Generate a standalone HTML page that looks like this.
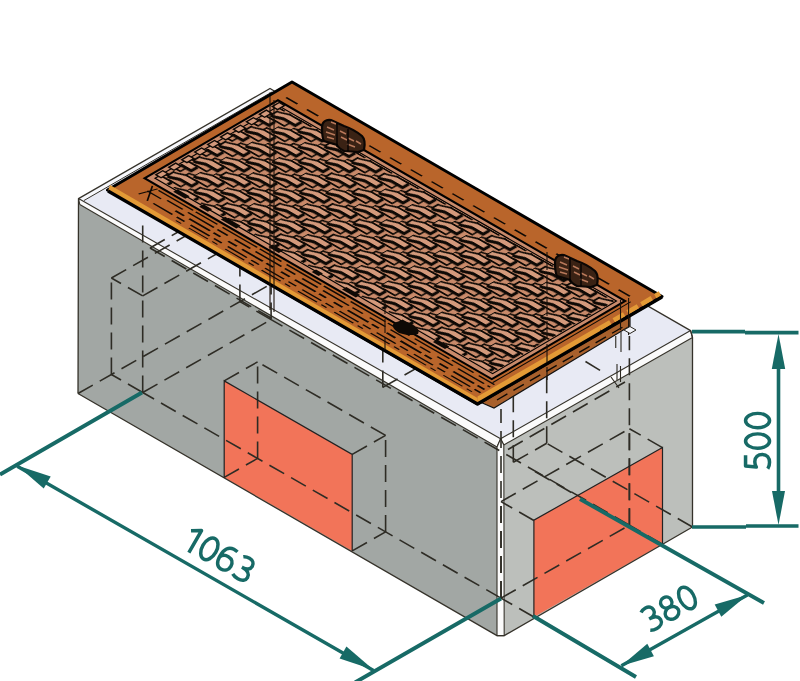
<!DOCTYPE html>
<html><head><meta charset="utf-8"><style>html,body{margin:0;padding:0;background:#fff;overflow:hidden}svg{display:block}</style></head>
<body>
<svg width="800" height="681" viewBox="0 0 800 681">
<rect width="800" height="681" fill="#ffffff"/>
<polygon points="79.8,204.5 497.0,447.0 497.0,635.6 78.0,393.5 78.0,204.0" fill="#a2a7a4"/>
<polygon points="503.8,445.0 692.5,337.5 692.5,527.0 504.2,635.6" fill="#bcbfbb"/>
<polygon points="78.5,198.6 270.0,88.5 690.6,330.6 500.6,438.8" fill="#e8eaf4"/>
<polygon points="224.2,380.9 352.2,454.4 352.2,550.9 224.2,477.4" fill="#f27459"/>
<polygon points="533.9,520.2 662.5,447.5 662.5,544.0 533.9,617.0" fill="#f27459"/>
<polygon points="78.5,198.6 270.0,88.5 272.0,92.0 84.0,200.5" fill="#f7f8fc"/>
<line x1="84" y1="200.5" x2="272" y2="92" stroke="#35322a" stroke-width="1"/>
<polygon points="78.5,198.6 500.6,438.8 497.0,447.0 79.8,204.5" fill="#fbfbfb" stroke="#35322a" stroke-width="1.1" stroke-linejoin="round"/>
<polygon points="500.6,438.8 690.6,330.6 692.5,337.5 503.8,445.0" fill="#fbfbfb" stroke="#35322a" stroke-width="1.1" stroke-linejoin="round"/>
<polygon points="497.0,447.0 500.6,438.8 503.8,445.0 504.2,635.6 497.0,635.6" fill="#fbfbfb" stroke="#35322a" stroke-width="1.1" stroke-linejoin="round"/>
<line x1="142.7" y1="392.5" x2="142.7" y2="221.9" stroke="#2e2c25" stroke-width="1.6" stroke-dasharray="17 8"/>
<line x1="501.0" y1="598.1" x2="501.0" y2="409.0" stroke="#2e2c25" stroke-width="1.6" stroke-dasharray="17 8"/>
<line x1="629.4" y1="525.2" x2="629.4" y2="336.1" stroke="#2e2c25" stroke-width="1.6" stroke-dasharray="17 8"/>
<line x1="271.1" y1="319.6" x2="271.1" y2="201.4" stroke="#2e2c25" stroke-width="1.6" stroke-dasharray="17 8"/>
<line x1="501.0" y1="598.1" x2="142.7" y2="392.5" stroke="#2e2c25" stroke-width="1.6" stroke-dasharray="17 8"/>
<line x1="142.7" y1="392.5" x2="271.1" y2="319.6" stroke="#2e2c25" stroke-width="1.6" stroke-dasharray="17 8"/>
<line x1="501.0" y1="598.1" x2="629.4" y2="525.2" stroke="#2e2c25" stroke-width="1.6" stroke-dasharray="17 8"/>
<line x1="629.4" y1="525.2" x2="271.1" y2="319.6" stroke="#2e2c25" stroke-width="1.6" stroke-dasharray="17 8"/>
<line x1="142.7" y1="295.9" x2="271.1" y2="223.0" stroke="#2e2c25" stroke-width="1.6" stroke-dasharray="17 8"/>
<line x1="111.4" y1="278.0" x2="239.9" y2="205.1" stroke="#2e2c25" stroke-width="1.6" stroke-dasharray="17 8"/>
<line x1="111.4" y1="374.5" x2="111.4" y2="278.0" stroke="#2e2c25" stroke-width="1.6" stroke-dasharray="17 8"/>
<line x1="239.9" y1="301.6" x2="239.9" y2="205.1" stroke="#2e2c25" stroke-width="1.6" stroke-dasharray="17 8"/>
<line x1="142.7" y1="295.9" x2="111.4" y2="278.0" stroke="#2e2c25" stroke-width="1.6" stroke-dasharray="17 8"/>
<line x1="271.1" y1="223.0" x2="239.9" y2="205.1" stroke="#2e2c25" stroke-width="1.6" stroke-dasharray="17 8"/>
<line x1="142.7" y1="392.5" x2="111.4" y2="374.5" stroke="#2e2c25" stroke-width="1.6" stroke-dasharray="17 8"/>
<line x1="271.1" y1="319.6" x2="239.9" y2="301.6" stroke="#2e2c25" stroke-width="1.6" stroke-dasharray="17 8"/>
<line x1="385.6" y1="531.9" x2="385.6" y2="435.4" stroke="#2e2c25" stroke-width="1.6" stroke-dasharray="17 8"/>
<line x1="352.2" y1="454.4" x2="385.6" y2="435.4" stroke="#2e2c25" stroke-width="1.6" stroke-dasharray="17 8"/>
<line x1="352.2" y1="550.9" x2="385.6" y2="531.9" stroke="#2e2c25" stroke-width="1.6" stroke-dasharray="17 8"/>
<line x1="257.6" y1="458.4" x2="257.6" y2="361.9" stroke="#2e2c25" stroke-width="1.6" stroke-dasharray="17 8"/>
<line x1="224.2" y1="380.9" x2="257.6" y2="361.9" stroke="#2e2c25" stroke-width="1.6" stroke-dasharray="17 8"/>
<line x1="224.2" y1="477.4" x2="257.6" y2="458.4" stroke="#2e2c25" stroke-width="1.6" stroke-dasharray="17 8"/>
<line x1="385.6" y1="435.4" x2="257.6" y2="361.9" stroke="#2e2c25" stroke-width="1.6" stroke-dasharray="17 8"/>
<line x1="513.3" y1="462.3" x2="513.3" y2="365.8" stroke="#2e2c25" stroke-width="1.6" stroke-dasharray="17 8"/>
<line x1="546.7" y1="443.3" x2="546.7" y2="346.8" stroke="#2e2c25" stroke-width="1.6" stroke-dasharray="17 8"/>
<line x1="513.3" y1="365.8" x2="546.7" y2="346.8" stroke="#2e2c25" stroke-width="1.6" stroke-dasharray="17 8"/>
<line x1="513.3" y1="462.3" x2="546.7" y2="443.3" stroke="#2e2c25" stroke-width="1.6" stroke-dasharray="17 8"/>
<line x1="382.8" y1="387.4" x2="382.8" y2="290.8" stroke="#2e2c25" stroke-width="1.6" stroke-dasharray="17 8"/>
<line x1="416.2" y1="368.4" x2="416.2" y2="271.9" stroke="#2e2c25" stroke-width="1.6" stroke-dasharray="17 8"/>
<line x1="382.8" y1="290.8" x2="416.2" y2="271.9" stroke="#2e2c25" stroke-width="1.6" stroke-dasharray="17 8"/>
<line x1="382.8" y1="387.4" x2="416.2" y2="368.4" stroke="#2e2c25" stroke-width="1.6" stroke-dasharray="17 8"/>
<line x1="513.3" y1="365.8" x2="382.8" y2="290.8" stroke="#2e2c25" stroke-width="1.6" stroke-dasharray="17 8"/>
<line x1="546.7" y1="346.8" x2="416.2" y2="271.9" stroke="#2e2c25" stroke-width="1.6" stroke-dasharray="17 8"/>
<line x1="692.5" y1="527.0" x2="546.7" y2="443.3" stroke="#2e2c25" stroke-width="1.6" stroke-dasharray="17 8"/>
<line x1="78.0" y1="393.5" x2="270.0" y2="284.5" stroke="#2e2c25" stroke-width="1.6" stroke-dasharray="17 8"/>
<line x1="270.0" y1="284.5" x2="270.0" y2="87.5" stroke="#2e2c25" stroke-width="1.6" stroke-dasharray="17 8"/>
<line x1="571.4" y1="492.5" x2="530.0" y2="468.7" stroke="#2e2c25" stroke-width="1.6" stroke-dasharray="17 8"/>
<line x1="150.0" y1="248.0" x2="271.0" y2="318.0" stroke="#2e2c25" stroke-width="1.6" stroke-dasharray="17 8"/>
<line x1="150.0" y1="248.0" x2="178.0" y2="232.0" stroke="#2e2c25" stroke-width="1.6" stroke-dasharray="17 8"/>
<line x1="508.0" y1="449.5" x2="625.0" y2="382.0" stroke="#2e2c25" stroke-width="1.6" stroke-dasharray="17 8"/>
<line x1="585.5" y1="361.5" x2="602.0" y2="371.5" stroke="#2e2c25" stroke-width="1.6" stroke-dasharray="17 8"/>
<line x1="501.0" y1="598.1" x2="501.0" y2="501.6" stroke="#2e2c25" stroke-width="1.6" stroke-dasharray="17 8"/>
<line x1="533.9" y1="520.5" x2="501.0" y2="501.6" stroke="#2e2c25" stroke-width="1.6" stroke-dasharray="17 8"/>
<line x1="533.9" y1="617.0" x2="501.0" y2="598.1" stroke="#2e2c25" stroke-width="1.6" stroke-dasharray="17 8"/>
<line x1="629.4" y1="525.2" x2="629.4" y2="428.7" stroke="#2e2c25" stroke-width="1.6" stroke-dasharray="17 8"/>
<line x1="662.4" y1="447.6" x2="629.4" y2="428.7" stroke="#2e2c25" stroke-width="1.6" stroke-dasharray="17 8"/>
<line x1="662.4" y1="544.1" x2="629.4" y2="525.2" stroke="#2e2c25" stroke-width="1.6" stroke-dasharray="17 8"/>
<line x1="501.0" y1="501.6" x2="629.4" y2="428.7" stroke="#2e2c25" stroke-width="1.6" stroke-dasharray="17 8"/>
<polyline points="78.0,393.5 78.5,198.6 270.0,88.5 690.6,330.6 692.5,337.5 692.5,527.0 504.2,635.6 497.0,635.6 78.0,393.5" fill="none" stroke="#35322a" stroke-width="1.3" stroke-linejoin="round"/>
<polyline points="533.9,617.0 533.9,520.2 662.5,447.5 662.5,544.0" fill="none" stroke="#222" stroke-width="1.2"/>
<polyline points="224.2,477.4 224.2,380.9 352.2,454.4 352.2,550.9" fill="none" stroke="#222" stroke-width="1.2"/>
<polygon points="480.0,402.0 630.0,315.0 630.0,326.0 494.0,408.0" fill="#a8602c" stroke="#111" stroke-width="1.2"/>
<g stroke="#0e0905" stroke-width="1.4" stroke-dasharray="12 7"><line x1="497" y1="400" x2="628" y2="324"/></g>
<polygon points="107.5,190.0 292.0,82.0 662.0,296.5 477.5,404.0" fill="#b9652b" stroke="#000" stroke-width="3" stroke-linejoin="round"/>
<polygon points="110.0,185.0 477.5,398.0 477.5,404.0 108.0,191.0" fill="#e39a36"/>
<polygon points="477.5,396.5 600.0,325.5 600.0,332.0 477.5,404.0" fill="#e39a36"/>
<line x1="600" y1="328.5" x2="660" y2="293.5" stroke="#e39a36" stroke-width="5" stroke-dasharray="12 4"/>
<polyline points="108.0,191.0 477.5,404.0 662.0,297.0" fill="none" stroke="#000" stroke-width="3.2" stroke-linejoin="round"/>
<g transform="matrix(0.8657,0.5007,0.8630,-0.5051,107.5,190)" fill="none" stroke="#0e0905"><line x1="30" y1="29" x2="418" y2="29" stroke-width="1.6" stroke-dasharray="40 3 25 6"/><line x1="45" y1="24" x2="418" y2="24" stroke-width="1.7" stroke-dasharray="18 6 30 4 12 8"/><line x1="60" y1="18.5" x2="418" y2="18.5" stroke-width="2.0" stroke-dasharray="10 6 24 4 8 9"/><line x1="40" y1="13" x2="418" y2="13" stroke-width="1.6" stroke-dasharray="22 5 9 7"/><line x1="70" y1="9" x2="418" y2="9" stroke-width="1.3" stroke-dasharray="6 9 22 5"/><path d="M22,30 L34,12 M28,30 L22,14 M24,22 L40,22" stroke-width="1.4"/><line x1="415" y1="30" x2="415" y2="190" stroke-width="1.2"/></g>
<g transform="matrix(0.8657,0.5007,0.8630,-0.5051,107.5,190)" fill="none" stroke="#0e0905" stroke-width="1.7"><line x1="12" y1="195" x2="420" y2="195" stroke-dasharray="13 11"/></g>
<defs><clipPath id="cp"><polygon points="17,40 405,40 405,181.5 17,181.5"/></clipPath><pattern id="wv" patternUnits="userSpaceOnUse" width="31" height="30" x="5" y="4"><g fill="#d49a7c" stroke="#0e0905" stroke-width="2.2"><path d="M1,-1.2 C6,-1.2 9,2.8 13,2.8 L25,2.8 L25,10" transform="translate(0,0)" fill="none" stroke="#0e0905" stroke-width="2.8"/><path d="M0,0 C5,0 8,4 12,4 L24,4 L24,11 L12,11 C8,11 5,7 0,7 Z" transform="translate(0,0)"/><path d="M1,-1.2 C6,-1.2 9,2.8 13,2.8 L25,2.8 L25,10" transform="translate(15.5,15)" fill="none" stroke="#0e0905" stroke-width="2.8"/><path d="M0,0 C5,0 8,4 12,4 L24,4 L24,11 L12,11 C8,11 5,7 0,7 Z" transform="translate(15.5,15)"/><path d="M1,-1.2 C6,-1.2 9,2.8 13,2.8 L25,2.8 L25,10" transform="translate(-15.5,15)" fill="none" stroke="#0e0905" stroke-width="2.8"/><path d="M0,0 C5,0 8,4 12,4 L24,4 L24,11 L12,11 C8,11 5,7 0,7 Z" transform="translate(-15.5,15)"/><path d="M1,-1.2 C6,-1.2 9,2.8 13,2.8 L25,2.8 L25,10" transform="translate(0,-30)" fill="none" stroke="#0e0905" stroke-width="2.8"/><path d="M0,0 C5,0 8,4 12,4 L24,4 L24,11 L12,11 C8,11 5,7 0,7 Z" transform="translate(0,-30)"/><path d="M1,-1.2 C6,-1.2 9,2.8 13,2.8 L25,2.8 L25,10" transform="translate(15.5,-15)" fill="none" stroke="#0e0905" stroke-width="2.8"/><path d="M0,0 C5,0 8,4 12,4 L24,4 L24,11 L12,11 C8,11 5,7 0,7 Z" transform="translate(15.5,-15)"/><path d="M1,-1.2 C6,-1.2 9,2.8 13,2.8 L25,2.8 L25,10" transform="translate(-15.5,-15)" fill="none" stroke="#0e0905" stroke-width="2.8"/><path d="M0,0 C5,0 8,4 12,4 L24,4 L24,11 L12,11 C8,11 5,7 0,7 Z" transform="translate(-15.5,-15)"/><path d="M1,-1.2 C6,-1.2 9,2.8 13,2.8 L25,2.8 L25,10" transform="translate(0,30)" fill="none" stroke="#0e0905" stroke-width="2.8"/><path d="M0,0 C5,0 8,4 12,4 L24,4 L24,11 L12,11 C8,11 5,7 0,7 Z" transform="translate(0,30)"/></g></pattern><pattern id="wv2" patternUnits="userSpaceOnUse" width="31" height="30" x="15.333333333333334" y="11.5"><g fill="none" stroke="#0e0905" stroke-width="1.8"><path d="M0,0 C5,0 8,4 12,4 L24,4 L24,11 L12,11 C8,11 5,7 0,7 Z" transform="translate(0,0)"/><path d="M0,0 C5,0 8,4 12,4 L24,4 L24,11 L12,11 C8,11 5,7 0,7 Z" transform="translate(15.5,15)"/><path d="M0,0 C5,0 8,4 12,4 L24,4 L24,11 L12,11 C8,11 5,7 0,7 Z" transform="translate(-15.5,15)"/><path d="M0,0 C5,0 8,4 12,4 L24,4 L24,11 L12,11 C8,11 5,7 0,7 Z" transform="translate(0,-30)"/><path d="M0,0 C5,0 8,4 12,4 L24,4 L24,11 L12,11 C8,11 5,7 0,7 Z" transform="translate(15.5,-15)"/><path d="M0,0 C5,0 8,4 12,4 L24,4 L24,11 L12,11 C8,11 5,7 0,7 Z" transform="translate(-15.5,-15)"/><path d="M0,0 C5,0 8,4 12,4 L24,4 L24,11 L12,11 C8,11 5,7 0,7 Z" transform="translate(0,30)"/></g></pattern></defs>
<g transform="matrix(0.8657,0.5007,0.8630,-0.5051,107.5,190)"><polygon points="10,33 411,33 411,187.5 10,187.5" fill="#c98a6a" stroke="#000" stroke-width="2.4"/><rect x="17" y="40" width="388" height="141.5" fill="url(#wv2)" clip-path="url(#cp)"/><rect x="17" y="40" width="388" height="141.5" fill="url(#wv)" clip-path="url(#cp)"/><polygon points="16,39 406,39 406,182.5 16,182.5" fill="none" stroke="#000" stroke-width="1.3"/><g fill="#d49a7c" stroke="#0e0905" stroke-width="1.6"><rect x="13" y="43.0" width="6" height="8" /><rect x="13" y="58.0" width="6" height="8" /><rect x="13" y="73.0" width="6" height="8" /><rect x="13" y="88.0" width="6" height="8" /><rect x="13" y="103.0" width="6" height="8" /><rect x="13" y="118.0" width="6" height="8" /><rect x="13" y="133.0" width="6" height="8" /><rect x="13" y="148.0" width="6" height="8" /><rect x="13" y="163.0" width="6" height="8" /><rect x="13" y="178.0" width="6" height="8" /></g><rect x="40" y="36" width="14" height="5" fill="#0e0905" stroke="none"/><rect x="70" y="36" width="10" height="5" fill="#0e0905" stroke="none"/><rect x="95" y="36" width="18" height="5" fill="#0e0905" stroke="none"/><rect x="150" y="36" width="12" height="5" fill="#0e0905" stroke="none"/><rect x="200" y="36" width="8" height="5" fill="#0e0905" stroke="none"/><rect x="235" y="36" width="16" height="5" fill="#0e0905" stroke="none"/><rect x="300" y="36" width="10" height="5" fill="#0e0905" stroke="none"/><rect x="340" y="36" width="14" height="5" fill="#0e0905" stroke="none"/></g>
<g stroke="#1a120a" stroke-width="1.1" fill="none"><line x1="270" y1="96" x2="270" y2="310"/><line x1="274" y1="100" x2="274" y2="312"/><line x1="547" y1="252" x2="547" y2="380" stroke-dasharray="18 5"/><line x1="620.5" y1="300" x2="620.5" y2="330"/><line x1="628.6" y1="298" x2="628.6" y2="335"/><line x1="385" y1="300" x2="385" y2="350" stroke-dasharray="14 5"/></g>
<path d="M394,323 C399,320 407,321 412,324 C417,327 420,330 418,334 C413,336 405,335 399,333 C394,330 391,326 394,323 Z" fill="#0e0905"/>
<polygon points="624.0,330.0 630.0,326.5 636.0,330.0 630.0,333.5" fill="#f4f5fa" stroke="#2b2820" stroke-width="1"/>
<g stroke="#2b2820" stroke-width="1.1"><line x1="615.75" y1="336" x2="615.75" y2="348"/><line x1="621" y1="332" x2="621" y2="352"/><line x1="617" y1="364" x2="617" y2="380"/><line x1="620.5" y1="366" x2="620.5" y2="382"/><line x1="611" y1="377" x2="619" y2="388"/></g>
<g transform="translate(322,121)"><path d="M0,6 C0,1 4,-2 9,-1 L22,5 C28,7 34,10 40,15 C43,18 43,24 42,29 L36,31 L22,30 C18,28 16,26 15,24 L2,20 C0,17 0,12 0,6 Z" fill="#3a2214" stroke="#0a0604" stroke-width="2.2"/><path d="M5,6 L12,9 M4,11 L13,14 M5,16 L12,18 M18,10 L24,13 M19,16 L25,19 M26,17 L32,20 M25,23 L33,26 M34,20 L39,23 M9,1 L14,3" stroke="#b8785a" stroke-width="1.5" fill="none"/><path d="M15,2 L15,26 M26,8 L26,30" stroke="#000" stroke-width="1.3"/></g>
<g transform="translate(555,256)"><path d="M0,6 C0,1 4,-2 9,-1 L22,5 C28,7 34,10 40,15 C43,18 43,24 42,29 L36,31 L22,30 C18,28 16,26 15,24 L2,20 C0,17 0,12 0,6 Z" fill="#3a2214" stroke="#0a0604" stroke-width="2.2"/><path d="M5,6 L12,9 M4,11 L13,14 M5,16 L12,18 M18,10 L24,13 M19,16 L25,19 M26,17 L32,20 M25,23 L33,26 M34,20 L39,23 M9,1 L14,3" stroke="#b8785a" stroke-width="1.5" fill="none"/><path d="M15,2 L15,26 M26,8 L26,30" stroke="#000" stroke-width="1.3"/></g>
<path d="M692,331.6 L745,331.6 M745,332.6 L798.5,332.6 M692,527 L746,527 M746,526 L798.5,526 M778.5,360 L778.5,500" stroke="#176a66" stroke-width="3.6" fill="none"/>
<polygon points="778.5,334.0 785.2,369.0 771.8,369.0" fill="#176a66"/>
<polygon points="778.5,525.0 772.0,491.0 785.0,491.0" fill="#176a66"/>
<g transform="translate(771.3,470.5) rotate(-90) scale(1.08,1.1)" fill="none" stroke="#176a66" stroke-width="3.2" stroke-linejoin="round"><g transform="translate(0,0)"><path d="M14.2,-23.4 L4.2,-23.4 L3.2,-13.6 C4.8,-14.6 6.6,-15 8.2,-15 C12.4,-15 14.9,-12 14.9,-8.2 C14.9,-4 12,-1.6 7.6,-1.6 C5,-1.6 3,-2.2 1.6,-3.2"/></g><g transform="translate(19,0)"><ellipse cx="8.25" cy="-12.5" rx="6.65" ry="10.9"/></g><g transform="translate(38,0)"><ellipse cx="8.25" cy="-12.5" rx="6.65" ry="10.9"/></g></g>
<path d="M142,392.5 L0,474.5 M501,598.5 L355,682.5" stroke="#176a66" stroke-width="3.9" fill="none"/>
<path d="M17.2,466.3 L373.5,670.5 M621.4,665.75 L747.4,594.9" stroke="#176a66" stroke-width="3.4" fill="none"/>
<polygon points="17.2,465.5 50.7,476.4 43.7,488.6" fill="#176a66"/>
<polygon points="373.5,669.7 339.6,658.6 346.4,646.4" fill="#176a66"/>
<g transform="translate(179.5,547.3) rotate(29.8) scale(1.1,1.08)" fill="none" stroke="#176a66" stroke-width="3.2" stroke-linejoin="round"><g transform="translate(0,0)"><path d="M1.6,-18.6 L9.8,-23.6 L9.8,0"/></g><g transform="translate(16,0)"><ellipse cx="8.25" cy="-12.5" rx="6.65" ry="10.9"/></g><g transform="translate(34.2,0)"><path d="M13.6,-23 C12.4,-23.3 11,-23.4 9.6,-23.4 C4.4,-23.4 1.6,-19 1.6,-11.8 C1.6,-5 4.2,-1.6 8.2,-1.6 C12.4,-1.6 14.9,-4.6 14.9,-8.4 C14.9,-12.4 12.4,-15 8.6,-15 C5.4,-15 3,-13.4 1.8,-10.8"/></g><g transform="translate(52.400000000000006,0)"><path d="M2.2,-21.8 C3.8,-23 5.8,-23.4 7.8,-23.4 C11.4,-23.4 13.6,-21.2 13.6,-18.2 C13.6,-14.8 10.8,-12.8 6.8,-12.8 L5.8,-12.8 M6.8,-12.8 C11.6,-12.8 14.9,-10.6 14.9,-7 C14.9,-3.6 12,-1.6 7.8,-1.6 C5.4,-1.6 3.2,-2.2 1.6,-3.2"/></g></g>
<path d="M533,616 L636,677 M580,499 L764,603" stroke="#176a66" stroke-width="3.9" fill="none"/>
<polygon points="621.4,665.8 647.3,643.8 653.9,656.2" fill="#176a66"/>
<polygon points="747.4,594.9 721.3,616.8 714.7,604.4" fill="#176a66"/>
<g transform="translate(650.5,634) rotate(-29.5) scale(1.07,1.07)" fill="none" stroke="#176a66" stroke-width="3.2" stroke-linejoin="round"><g transform="translate(0,0)"><path d="M2.2,-21.8 C3.8,-23 5.8,-23.4 7.8,-23.4 C11.4,-23.4 13.6,-21.2 13.6,-18.2 C13.6,-14.8 10.8,-12.8 6.8,-12.8 L5.8,-12.8 M6.8,-12.8 C11.6,-12.8 14.9,-10.6 14.9,-7 C14.9,-3.6 12,-1.6 7.8,-1.6 C5.4,-1.6 3.2,-2.2 1.6,-3.2"/></g><g transform="translate(19,0)"><ellipse cx="8.25" cy="-18.3" rx="5.3" ry="5.1"/><ellipse cx="8.25" cy="-7.3" rx="6.65" ry="5.7"/></g><g transform="translate(38,0)"><ellipse cx="8.25" cy="-12.5" rx="6.65" ry="10.9"/></g></g>
</svg>
</body></html>
